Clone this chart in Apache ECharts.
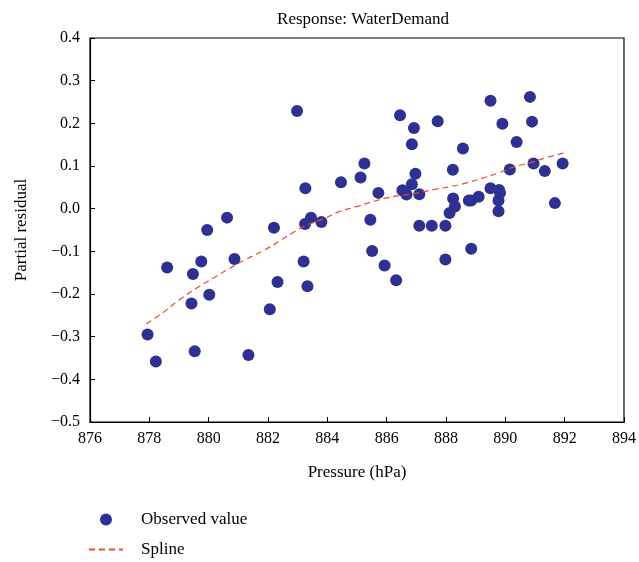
<!DOCTYPE html>
<html><head><meta charset="utf-8">
<script src="https://cdn.jsdelivr.net/npm/echarts@6/dist/echarts.min.js"></script>
<style>html,body{margin:0;padding:0;background:#fff}#c{width:639px;height:562px}</style>
</head><body><div id="c"></div>
<script>
const obsX = [882.98,883.26,883.2,883.33,883.25,883.45,883.8,884.46,885.12,886.45,886.92,887.72,886.85,889.5,890.83,889.9,890.9,890.38,888.57,885.25,886.97,888.23,890.15,890.95,891.93,891.33,885.72,886.85,886.53,886.67,887.1,889.5,889.79,889.82,889.1,888.85,888.77,888.24,889.77,888.3,889.77,891.67,888.12,885.45,887.1,887.52,887.98,885.51,885.93,886.32,887.98,888.85,877.94,878.22,878.6,879.47,879.75,879.42,880.02,879.53,879.95,880.62,880.87,881.34,882.2,882.06,882.32];
const obsY = [0.229,0.048,-0.124,-0.182,-0.036,-0.021,-0.031,0.062,0.073,0.219,0.189,0.205,0.151,0.253,0.262,0.199,0.204,0.156,0.141,0.106,0.082,0.091,0.092,0.106,0.106,0.088,0.037,0.057,0.043,0.033,0.034,0.048,0.044,0.037,0.028,0.019,0.019,0.024,0.019,0.005,-0.006,0.013,-0.01,-0.026,-0.04,-0.04,-0.04,-0.099,-0.133,-0.168,-0.119,-0.094,-0.295,-0.358,-0.138,-0.153,-0.124,-0.222,-0.202,-0.334,-0.05,-0.021,-0.118,-0.343,-0.045,-0.236,-0.172];
const splineX = [877.9,878.25,878.6,879.0,879.6,880.15,880.7,881.25,881.8,882.37,882.8,883.26,883.93,884.4,885.05,885.6,886.05,886.6,887.06,887.6,888.17,888.72,889.3,889.74,890.3,890.86,891.4,891.96];
const splineY = [-0.27,-0.254,-0.236,-0.214,-0.186,-0.163,-0.14,-0.119,-0.1,-0.077,-0.058,-0.04,-0.022,-0.007,0.006,0.018,0.026,0.032,0.037,0.045,0.052,0.061,0.073,0.083,0.098,0.108,0.12,0.13];
const xTicks = {min:876, max:894, interval:2};
const yTicks = {min:-0.5, max:0.4, interval:0.1};

const font = 'Liberation Serif';
const chart = echarts.init(document.getElementById('c'), null, {renderer:'canvas'});
const fmtY = v => { const s = Math.abs(v).toFixed(1); return (v < -1e-9 ? '\u2212' : '') + s; };
chart.setOption({
  animation:false,
  backgroundColor:'#fff',
  title:{text:'Response: WaterDemand', left:358, textAlign:'center', top:6,
    textStyle:{fontFamily:font, fontWeight:'normal', fontSize:17, color:'#000'}},
  grid:{left:90, right:12, top:38, bottom:140, show:true, borderColor:'#000', borderWidth:1.2},
  legend:{orient:'vertical', left:88, top:511, padding:0, itemWidth:34, itemHeight:12, itemGap:13,
    textStyle:{fontFamily:font, fontSize:17, color:'#000', padding:[0,0,0,13]},
    data:[{name:'Observed value', icon:'circle'}, {name:'Spline', itemStyle:{opacity:0}}]},
  xAxis:{type:'value', min:xTicks.min, max:xTicks.max, interval:xTicks.interval,
    name:'Pressure (hPa)', nameLocation:'middle', nameGap:42,
    nameTextStyle:{fontFamily:font, fontSize:17, color:'#000'},
    axisLine:{onZero:false, lineStyle:{color:'#000', width:1.2}},
    axisTick:{inside:true, length:5, lineStyle:{color:'#000'}},
    axisLabel:{fontFamily:font, fontSize:16, color:'#000', margin:9},
    splitLine:{show:false}},
  yAxis:{type:'value', min:yTicks.min, max:yTicks.max, interval:yTicks.interval,
    name:'Partial residual', nameLocation:'middle', nameGap:60,
    nameTextStyle:{fontFamily:font, fontSize:17, color:'#000'},
    axisLine:{show:true, onZero:false, lineStyle:{color:'#000', width:1.2}},
    axisTick:{show:true, inside:true, length:5, lineStyle:{color:'#000'}},
    axisLabel:{fontFamily:font, fontSize:16, color:'#000', margin:10, formatter:fmtY},
    splitLine:{show:false}},
  series:[
    {name:'Observed value', type:'scatter', symbol:'circle', symbolSize:12,
      itemStyle:{color:'#2e3192', opacity:1},
      data: obsX.map((x,i)=>[x, obsY[i]])},
    {name:'Spline', type:'line', showSymbol:false, symbol:'none', smooth:true, z:3,
      lineStyle:{color:'#ee4a2c', width:1.2, type:[6,4]},
      itemStyle:{color:'#ee4a2c'},
      data: splineX.map((x,i)=>[x, splineY[i]])}
  ]
});
</script></body></html>
